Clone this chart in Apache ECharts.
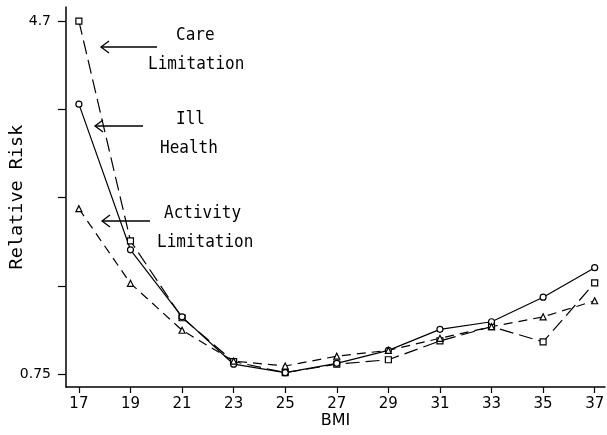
<!DOCTYPE html>
<html><head><meta charset="utf-8">
<script src="https://cdn.jsdelivr.net/npm/echarts@6/dist/echarts.min.js"></script>
<style>html,body{margin:0;padding:0;background:#fff}#c{width:607px;height:435px}</style>
</head><body><div id="c"></div>
<script>
const bmi = [17, 19, 21, 23, 25, 27, 29, 31, 33, 35, 37];
const careLimitation = [4.70, 2.24, 1.38, 0.89, 0.765, 0.86, 0.91, 1.12, 1.28, 1.11, 1.77];
const illHealth = [3.77, 2.14, 1.39, 0.86, 0.765, 0.87, 1.015, 1.25, 1.335, 1.61, 1.94];
const activityLimitation = [2.60, 1.765, 1.24, 0.895, 0.84, 0.95, 1.015, 1.15, 1.28, 1.39, 1.57];
const yTickValues = [0.75, 1.7375, 2.725, 3.7125, 4.7];
const yLabelValues = [0.75, 4.7];

const pair = arr => bmi.map((x, i) => [x, arr[i]]);
const FONT = 'DejaVu Sans';
const MONO = 'DejaVu Sans Mono';
const chart = echarts.init(document.getElementById('c'), null, {renderer: 'canvas'});

function mk(name, data, symbol, size, dash) {
  return {
    name, type: 'line', data: pair(data), symbol, symbolSize: size,
    lineStyle: {color: '#000', width: 1.2, type: dash},
    itemStyle: {color: '#fff', borderColor: '#000', borderWidth: 1.2},
    animation: false, z: 3
  };
}
function txt(s, x, y) {
  return {type: 'text', x: x, y: y, scaleY: 1.12, style: {text: s, font: '16px ' + MONO, fill: '#000'}};
}

chart.setOption({
  animation: false,
  backgroundColor: '#fff',
  grid: {left: 66, right: 2, top: 7, bottom: 48, containLabel: false, outerBoundsMode: 'none'},
  xAxis: {
    type: 'value', min: 16.5, max: 37.4,
    name: 'BMI', nameLocation: 'middle', nameGap: 26, nameMoveOverlap: false,
    nameTextStyle: {fontFamily: FONT, fontSize: 16, color: '#000', verticalAlign: 'top'},
    axisLine: {lineStyle: {color: '#000', width: 1.5}},
    axisTick: {show: true, length: 6, inside: false, lineStyle: {color: '#000', width: 1.2}, customValues: bmi},
    axisLabel: {fontFamily: FONT, fontSize: 15, color: '#000', margin: 10, customValues: bmi},
    splitLine: {show: false}
  },
  yAxis: {
    type: 'value', min: 0.605, max: 4.857,
    name: 'Relative Risk', nameLocation: 'middle', nameGap: 39, nameRotate: 90, nameMoveOverlap: false,
    nameTextStyle: {fontFamily: MONO, fontSize: 18.5, color: '#000'},
    axisLine: {show: true, lineStyle: {color: '#000', width: 1.5}},
    axisTick: {show: true, length: 8, lineStyle: {color: '#000', width: 1.2}, customValues: yTickValues},
    axisLabel: {fontFamily: FONT, fontSize: 14, color: '#000', margin: 15, customValues: yLabelValues,
      formatter: v => (Math.abs(v - 0.75) < 1e-6 ? '0.75' : '4.7')},
    splitLine: {show: false}
  },
  series: [
    mk('Care Limitation', careLimitation, 'rect', 6, [14, 6]),
    mk('Ill Health', illHealth, 'circle', 6, 'solid'),
    mk('Activity Limitation', activityLimitation, 'triangle', 6, [9, 6])
  ],
  graphic: [
    txt('Care', 176, 26),
    txt('Limitation', 148, 55),
    txt('Ill', 176, 110),
    txt('Health', 160, 139),
    txt('Activity', 164, 204),
    txt('Limitation', 157, 233),
    {type: 'line', shape: {x1: 157, y1: 47, x2: 101, y2: 47}, style: {stroke: '#000', lineWidth: 1.3}},
    {type: 'polyline', shape: {points: [[109, 41], [101, 47], [109, 53]]}, style: {stroke: '#000', lineWidth: 1.3, fill: null}},
    {type: 'line', shape: {x1: 143, y1: 126, x2: 95, y2: 126}, style: {stroke: '#000', lineWidth: 1.3}},
    {type: 'polyline', shape: {points: [[103, 120], [95, 126], [103, 132]]}, style: {stroke: '#000', lineWidth: 1.3, fill: null}},
    {type: 'line', shape: {x1: 150, y1: 221, x2: 102, y2: 221}, style: {stroke: '#000', lineWidth: 1.3}},
    {type: 'polyline', shape: {points: [[110, 215], [102, 221], [110, 227]]}, style: {stroke: '#000', lineWidth: 1.3, fill: null}}
  ]
});
</script></body></html>
